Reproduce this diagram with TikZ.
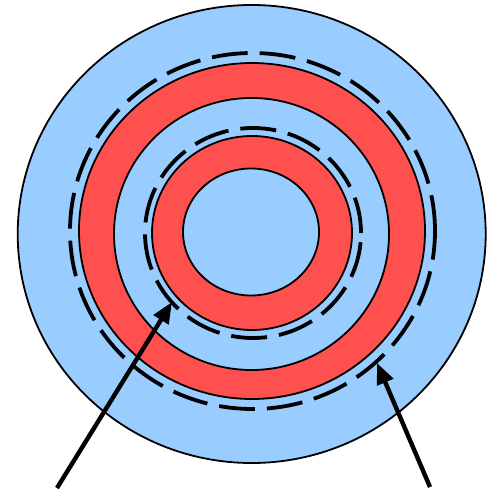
\documentclass[tikz,border=0pt]{standalone}
\usetikzlibrary{arrows.meta}
\definecolor{ringblue}{HTML}{99CCFF}
\definecolor{ringred}{HTML}{FF5050}
\begin{document}
\begin{tikzpicture}[x=1pt,y=1pt,
  rim/.style={draw=black, line width=1.8pt},
  gap/.style={line width=3.8pt, dash pattern=on 36pt off 12pt},
  pointer/.style={line width=4.4pt, -{Triangle[length=21pt,width=17pt]}}]
  \useasboundingbox (0,0) rectangle (494,493);
  \fill[ringblue, rim](251.7,259) ellipse (234 and 229);
  % outer ring
  \fill[ringred, rim](252,262) ellipse (173 and 168);
  \fill[ringblue, rim](251.5,259) ellipse (137.5 and 136);
  \draw[gap](252.5,262) ellipse (182.5 and 178);
  % inner ring
  \draw[gap](253,260) ellipse (108 and 105);
  \fill[ringred, rim](252,260) ellipse (100 and 97);
  \fill[ringblue, rim](251,261) ellipse (68 and 63.5);
  % pointers
  \coordinate (tailA) at (57,5);
  \coordinate (tipA) at (172,191);
  \coordinate (tailB) at (430,6);
  \coordinate (tipB) at (377,130);
  \draw[pointer](tailA)--(tipA);
  \draw[pointer](tailB)--(tipB);
\end{tikzpicture}
\end{document}
